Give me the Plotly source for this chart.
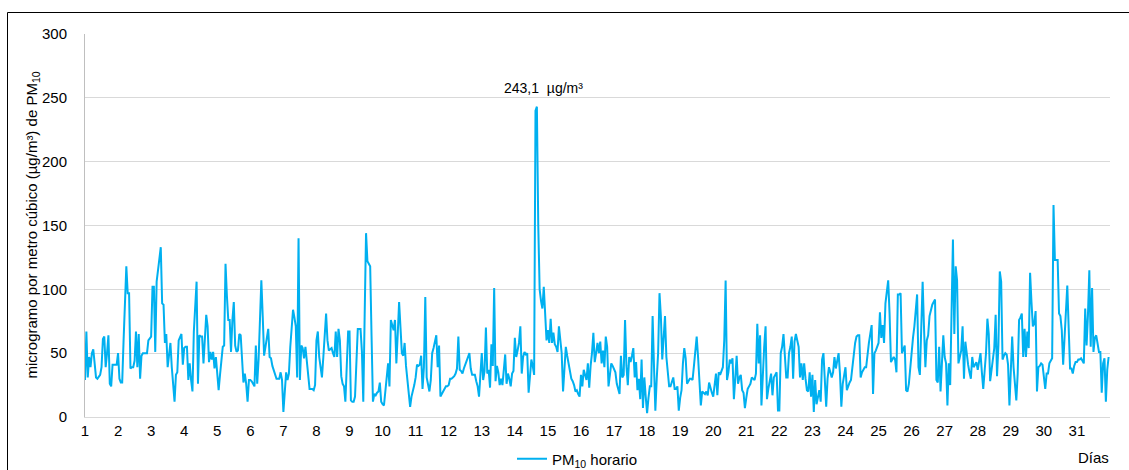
import plotly.graph_objects as go

# Hourly PM10 values (µg/m³), 24 per day
d01 = [29, 67, 31, 47, 39, 50, 53, 42, 31, 30, 32, 33, 39, 61, 63, 39, 50, 64, 26, 24, 41, 41, 41, 41]
d02 = [50, 30, 27, 27, 60, 98, 118, 97, 97, 38, 39, 39, 44, 67, 39, 65, 30, 48, 50, 50, 50, 50, 60, 62]
d03 = [63, 102, 102, 51, 106, 115, 124, 133, 89, 88, 58, 65, 39, 50, 58, 39, 25, 12, 33, 35, 60, 62, 65, 41]
d04 = [54, 55, 55, 29, 42, 29, 20, 67, 85, 106, 26, 64, 63, 63, 42, 60, 80, 71, 43, 51, 45, 51, 38, 47]
d05 = [35, 21, 33, 47, 55, 56, 120, 95, 76, 76, 51, 76, 90, 56, 51, 52, 65, 64, 45, 27, 34, 26, 12, 29]
d06 = [29, 28, 26, 24, 56, 26, 45, 75, 107, 79, 48, 55, 63, 69, 47, 46, 40, 37, 34, 30, 30, 30, 35, 29]
d07 = [4, 20, 35, 29, 34, 55, 71, 84, 78, 71, 31, 140, 29, 56, 54, 46, 55, 42, 32, 22, 22, 22, 21, 25]
d08 = [60, 67, 47, 40, 31, 47, 68, 81, 60, 52, 53, 54, 50, 47, 67, 47, 69, 60, 32, 26, 24, 12, 40, 67]
d09 = [67, 13, 12, 12, 16, 40, 69, 69, 69, 51, 12, 80, 144, 122, 120, 118, 63, 12, 18, 17, 19, 20, 27, 12]
d10 = [10, 9, 20, 31, 42, 24, 76, 72, 68, 76, 42, 65, 90, 70, 50, 48, 58, 40, 29, 15, 8, 16, 20, 25]
d11 = [31, 41, 40, 41, 48, 22, 39, 94, 31, 25, 20, 29, 50, 54, 58, 64, 39, 56, 16, 18, 21, 22, 24, 24]
d12 = [25, 30, 30, 31, 32, 34, 38, 63, 37, 36, 34, 38, 42, 44, 47, 50, 38, 33, 33, 33, 28, 24, 16, 35]
d13 = [50, 29, 36, 70, 34, 37, 23, 57, 40, 101, 28, 40, 35, 25, 30, 25, 37, 49, 26, 34, 30, 24, 34, 36]
d14 = [62, 47, 52, 58, 71, 34, 47, 51, 49, 50, 19, 35, 45, 40, 33, 240, 243.1, 150, 100, 91, 85, 102, 75, 60]
d15 = [68, 58, 77, 58, 66, 57, 55, 51, 71, 60, 50, 20, 40, 55, 48, 42, 34, 30, 28, 25, 20, 21, 18, 16]
d16 = [33, 24, 37, 33, 29, 42, 23, 40, 50, 66, 43, 50, 58, 50, 59, 42, 52, 39, 63, 55, 24, 33, 42, 40]
d17 = [37, 35, 26, 22, 18, 48, 31, 33, 76, 40, 25, 47, 43, 48, 54, 31, 43, 21, 30, 14, 45, 7, 31, 16]
d18 = [3, 15, 24, 24, 79, 40, 5, 30, 50, 97, 79, 45, 60, 79, 47, 35, 24, 24, 28, 31, 22, 22, 24, 5]
d19 = [15, 21, 42, 54, 46, 26, 28, 30, 30, 29, 40, 54, 63, 47, 25, 9, 20, 19, 18, 20, 17, 27, 22, 19]
d20 = [16, 25, 34, 17, 35, 33, 36, 39, 60, 107, 29, 35, 45, 42, 46, 14, 30, 48, 26, 31, 33, 21, 19, 7]
d21 = [15, 22, 24, 26, 31, 30, 29, 34, 73, 42, 64, 9, 39, 55, 71, 14, 22, 29, 34, 17, 31, 33, 35, 5]
d22 = [5, 50, 55, 65, 45, 31, 31, 50, 55, 63, 30, 59, 65, 60, 55, 31, 42, 29, 42, 30, 21, 20, 35, 16]
d23 = [33, 4, 29, 10, 15, 21, 12, 45, 50, 25, 8, 30, 39, 35, 31, 35, 47, 38, 44, 50, 34, 8, 26, 32]
d24 = [39, 21, 25, 27, 29, 40, 50, 58, 63, 64, 64, 31, 35, 37, 39, 39, 52, 58, 65, 72, 18, 50, 52, 55]
d25 = [58, 82, 62, 72, 58, 89, 98, 107, 81, 43, 45, 47, 45, 35, 96, 96, 97, 50, 53, 56, 21, 20, 26, 40]
d26 = [52, 62, 71, 84, 96, 39, 33, 70, 106, 70, 39, 60, 64, 79, 84, 88, 90, 92, 29, 27, 55, 20, 42, 64]
d27 = [47, 42, 9, 42, 25, 80, 139, 65, 118, 107, 42, 47, 52, 71, 30, 59, 48, 41, 35, 30, 47, 39, 41, 43]
d28 = [37, 44, 50, 35, 22, 36, 50, 77, 65, 28, 38, 46, 54, 80, 32, 56, 114, 106, 45, 48, 50, 49, 41, 9]
d29 = [35, 63, 39, 25, 13, 34, 76, 78, 81, 47, 69, 47, 67, 54, 113, 90, 71, 73, 83, 20, 39, 40, 42, 41]
d30 = [30, 22, 34, 34, 42, 44, 46, 166, 123, 123, 123, 81, 79, 68, 41, 62, 84, 103, 70, 38, 38, 34, 40, 43]
d31 = [43, 45, 45, 46, 44, 42, 85, 56, 80, 115, 55, 101, 51, 62, 64, 58, 51, 51, 19, 42, 46, 12, 37, 47]

days = [d01, d02, d03, d04, d05, d06, d07, d08, d09, d10, d11, d12, d13, d14, d15, d16,
        d17, d18, d19, d20, d21, d22, d23, d24, d25, d26, d27, d28, d29, d30, d31]
day_labels = [str(i) for i in range(1, 32)]
y_ticks = [0, 50, 100, 150, 200, 250, 300]

values = [v for d in days for v in d]
hours = list(range(len(values)))
peak_idx = values.index(max(values))

FONT = "Liberation Sans, Arial, sans-serif"
W, H = 1129, 470
L, R, T, B = 85, 19, 34, 53
pw, ph = W - L - R, H - T - B

def px_x(p):
    return (p - L) / pw

def px_y(p):
    return (H - B - p) / ph

fig = go.Figure()
fig.add_trace(go.Scatter(
    x=hours, y=values, mode="lines",
    line=dict(color="#00B0F0", width=2),
    name="PM<sub>10</sub> horario",
    hoverinfo="skip",
))

fig.update_layout(
    width=W, height=H,
    margin=dict(l=L, r=R, t=T, b=B, autoexpand=False),
    paper_bgcolor="white", plot_bgcolor="white",
    font=dict(family=FONT, size=15, color="#000000"),
    showlegend=True,
    legend=dict(orientation="h", x=px_x(512), xanchor="left",
                y=px_y(459), yanchor="middle",
                font=dict(size=15), bgcolor="rgba(0,0,0,0)"),
    xaxis=dict(range=[0, 744], tickmode="array",
               tickvals=[i * 24 for i in range(31)], ticktext=day_labels,
               showgrid=False, zeroline=False, showline=True,
               linecolor="#D9D9D9", linewidth=1, ticks="",
               ticklabelstandoff=0, tickfont=dict(size=15)),
    yaxis=dict(range=[0, 300], tickmode="array", tickvals=y_ticks,
               ticktext=[str(v) for v in y_ticks],
               showgrid=True, gridcolor="#D9D9D9", gridwidth=1,
               zeroline=False, showline=True, linecolor="#BFBFBF", linewidth=1,
               ticks="", ticklabelstandoff=14, tickfont=dict(size=15)),
)

fig.add_annotation(x=hours[peak_idx], y=values[peak_idx], xref="x", yref="y",
                   text="243,1  µg/m³", showarrow=False, yanchor="bottom",
                   xshift=7, yshift=9, font=dict(size=14))

fig.add_annotation(x=px_x(32), y=px_y(225.5), xref="paper", yref="paper",
                   text="microgramo por metro cúbico (µg/m³) de PM<sub>10</sub>",
                   textangle=-90, showarrow=False, xanchor="center", yanchor="middle",
                   font=dict(size=15))

fig.add_annotation(x=px_x(1111), y=px_y(457), xref="paper", yref="paper",
                   text="Días", showarrow=False, xanchor="right", yanchor="middle",
                   font=dict(size=15))

fig.add_shape(type="rect", xref="paper", yref="paper",
              x0=px_x(7.5), x1=px_x(1140), y0=px_y(490), y1=px_y(12.5),
              line=dict(color="black", width=1), fillcolor="rgba(0,0,0,0)",
              layer="above")

fig.write_html("out.html")
